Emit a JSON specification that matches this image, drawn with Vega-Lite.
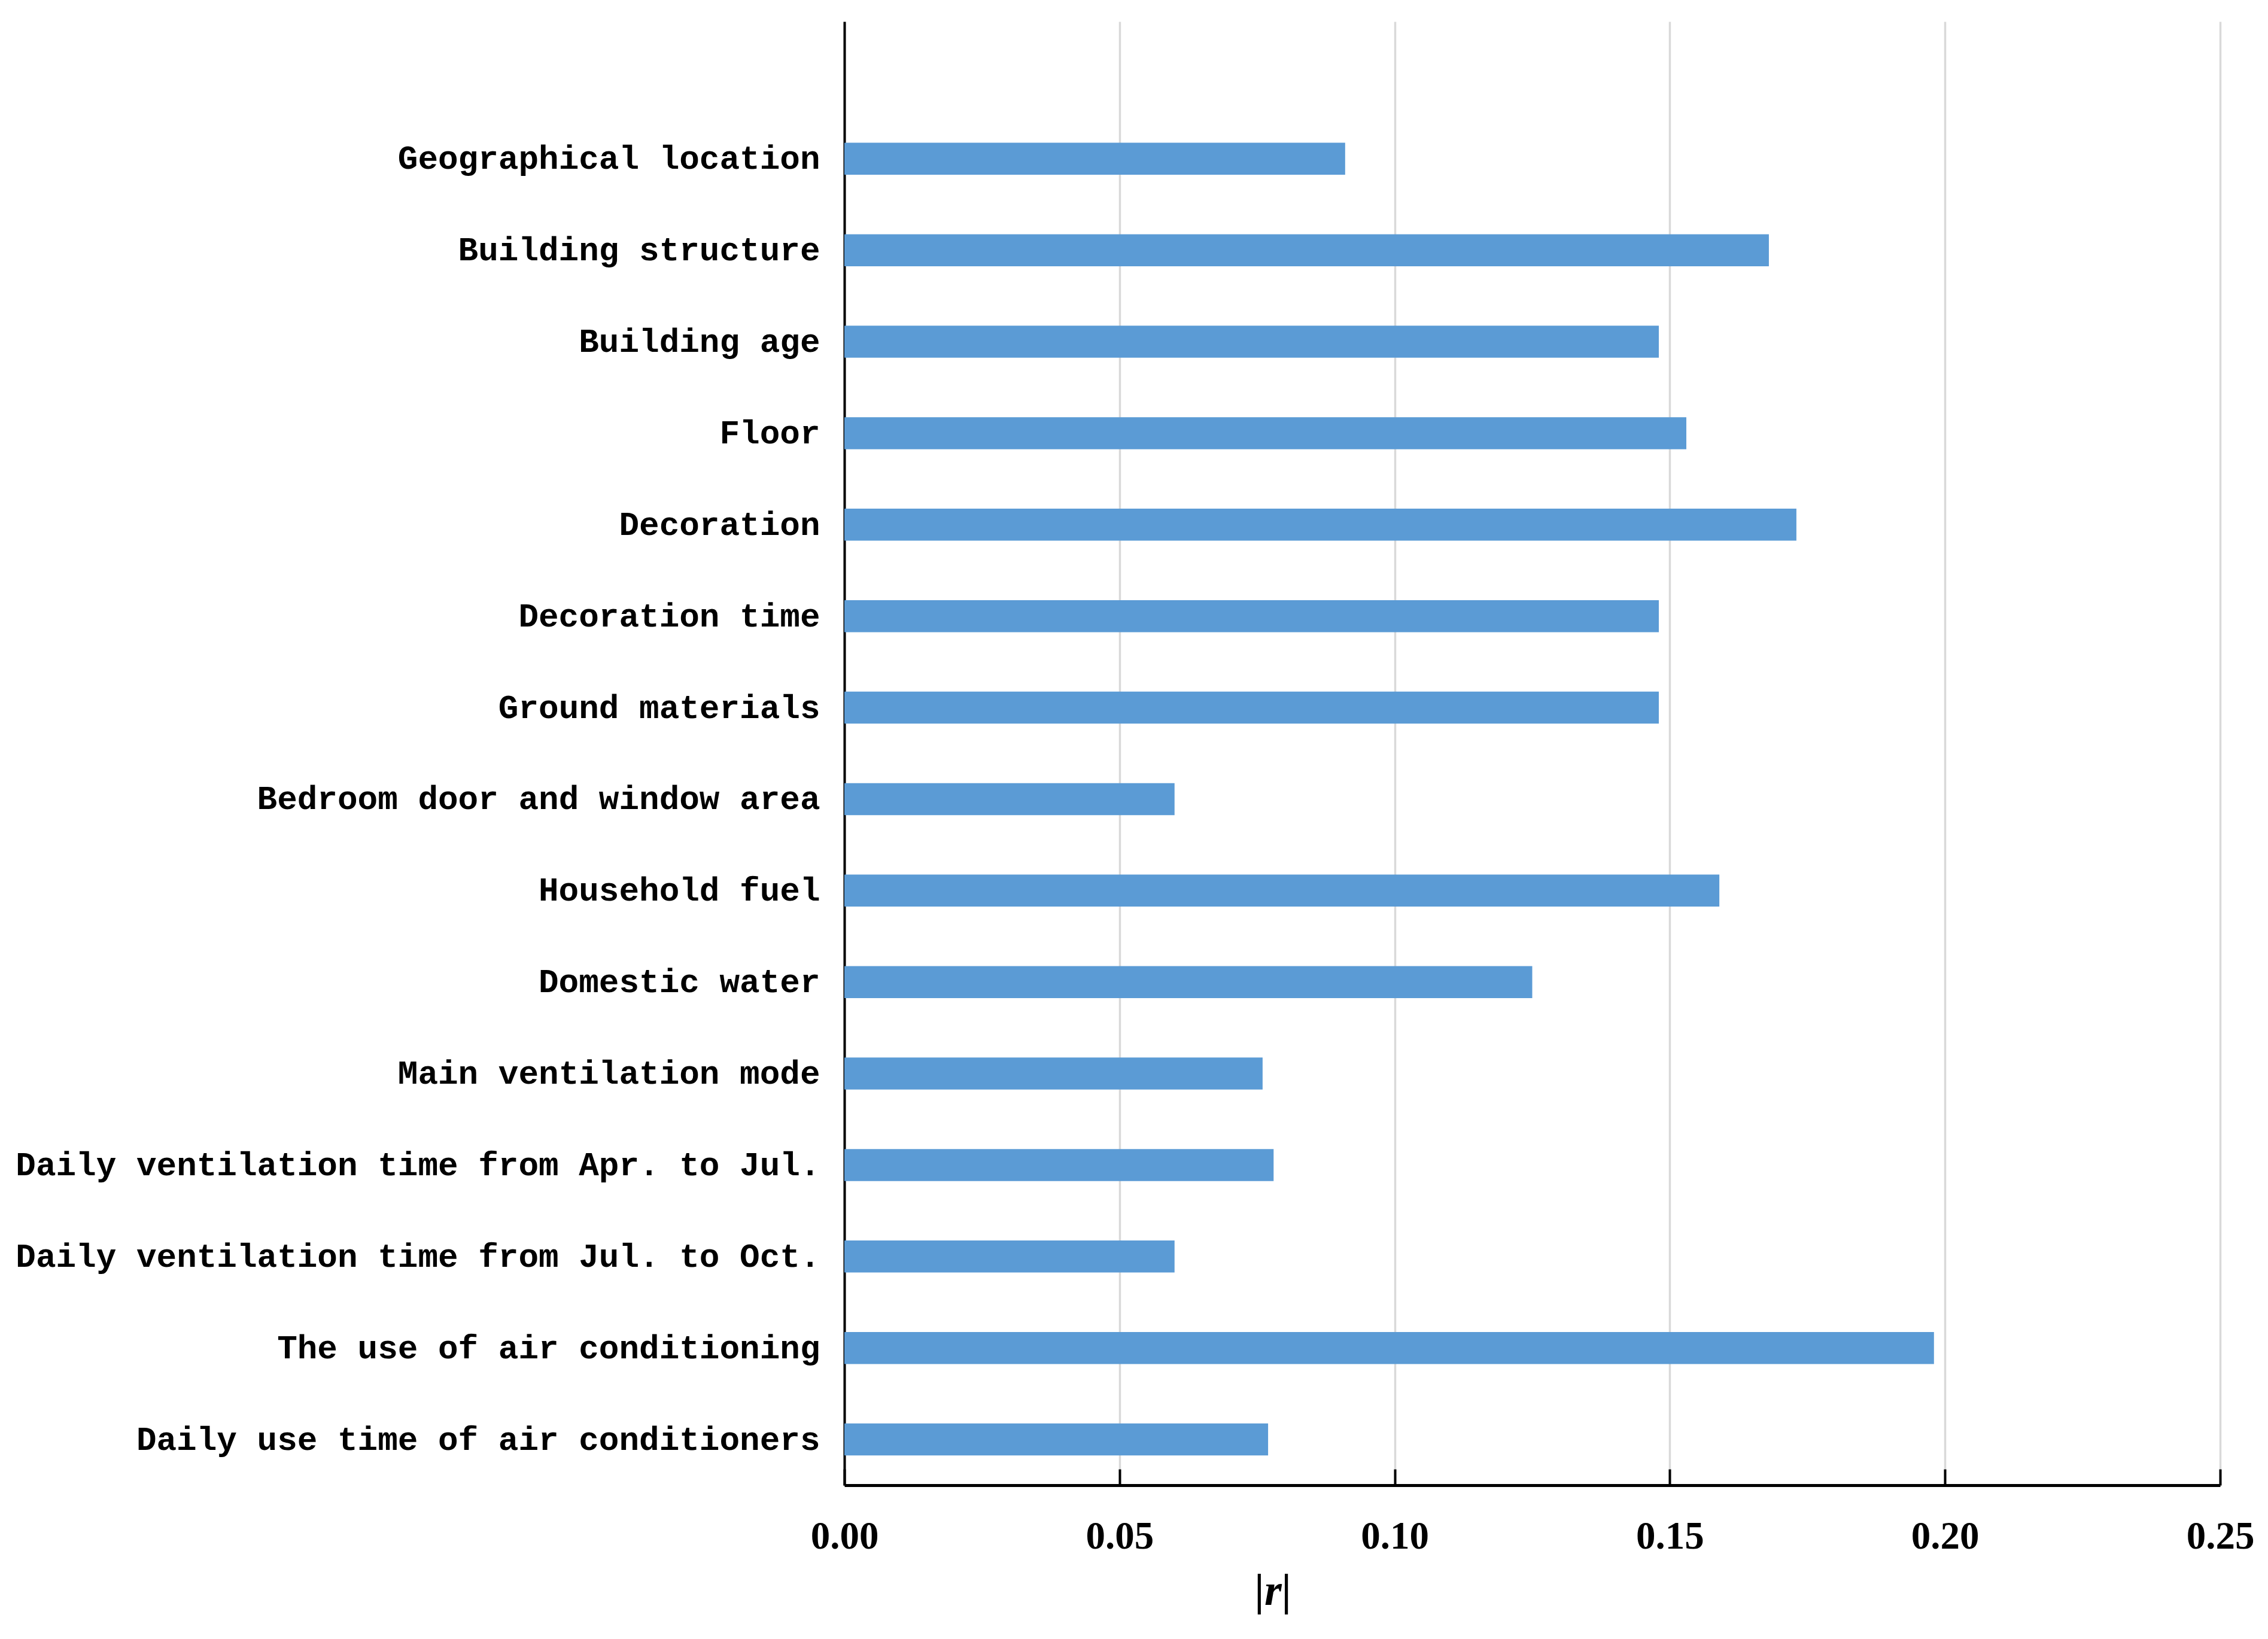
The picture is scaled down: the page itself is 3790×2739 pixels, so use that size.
{
  "$schema": "https://vega.github.io/schema/vega-lite/v6.json",
  "autosize": {"type": "none"},
  "padding": {"left": 1411, "top": 36, "right": 80, "bottom": 257},
  "width": 2299,
  "height": 2446,
  "background": "white",
  "config": {"view": {"stroke": null}},
  "data": {
    "values": [
      {"factor": "Geographical location", "r": 0.091},
      {"factor": "Building structure", "r": 0.168},
      {"factor": "Building age", "r": 0.148},
      {"factor": "Floor", "r": 0.153},
      {"factor": "Decoration", "r": 0.173},
      {"factor": "Decoration time", "r": 0.148},
      {"factor": "Ground materials", "r": 0.148},
      {"factor": "Bedroom door and window area", "r": 0.060},
      {"factor": "Household fuel", "r": 0.159},
      {"factor": "Domestic water", "r": 0.125},
      {"factor": "Main ventilation mode", "r": 0.076},
      {"factor": "Daily ventilation time from Apr. to Jul.", "r": 0.078},
      {"factor": "Daily ventilation time from Jul. to Oct.", "r": 0.060},
      {"factor": "The use of air conditioning", "r": 0.198},
      {"factor": "Daily use time of air conditioners", "r": 0.077}
    ]
  },
  "mark": {"type": "bar", "color": "#5b9bd5"},
  "encoding": {
    "y": {
      "field": "factor",
      "type": "nominal",
      "sort": null,
      "scale": {"paddingInner": 0.65, "paddingOuter": 0.825, "align": 0.803},
      "axis": {
        "title": null,
        "ticks": false,
        "domainColor": "black",
        "domainWidth": 4,
        "labelFont": "Liberation Mono",
        "labelFontWeight": "bold",
        "labelFontSize": 56,
        "labelColor": "black",
        "labelPadding": 41,
        "labelLimit": 2000
      }
    },
    "x": {
      "field": "r",
      "type": "quantitative",
      "scale": {"domain": [0, 0.25], "nice": false, "zero": true},
      "axis": {
        "values": [0, 0.05, 0.1, 0.15, 0.2, 0.25],
        "format": ".2f",
        "title": "|r|",
        "titleFont": "Liberation Serif",
        "titleFontStyle": "italic",
        "titleFontWeight": "bold",
        "titleFontSize": 74,
        "titleColor": "black",
        "titleX": 716,
        "titleY": 177,
        "titleAlign": "center",
        "titleBaseline": "middle",
        "domainColor": "black",
        "domainWidth": 5,
        "tickColor": "black",
        "tickWidth": 4,
        "tickSize": -27,
        "grid": true,
        "gridColor": "#d9d9d9",
        "gridWidth": 3.5,
        "labelFont": "Liberation Serif",
        "labelFontWeight": "bold",
        "labelFontSize": 65,
        "labelColor": "black",
        "labelBaseline": "middle",
        "labelPadding": 112,
        "labelFlush": false
      }
    }
  }
}
